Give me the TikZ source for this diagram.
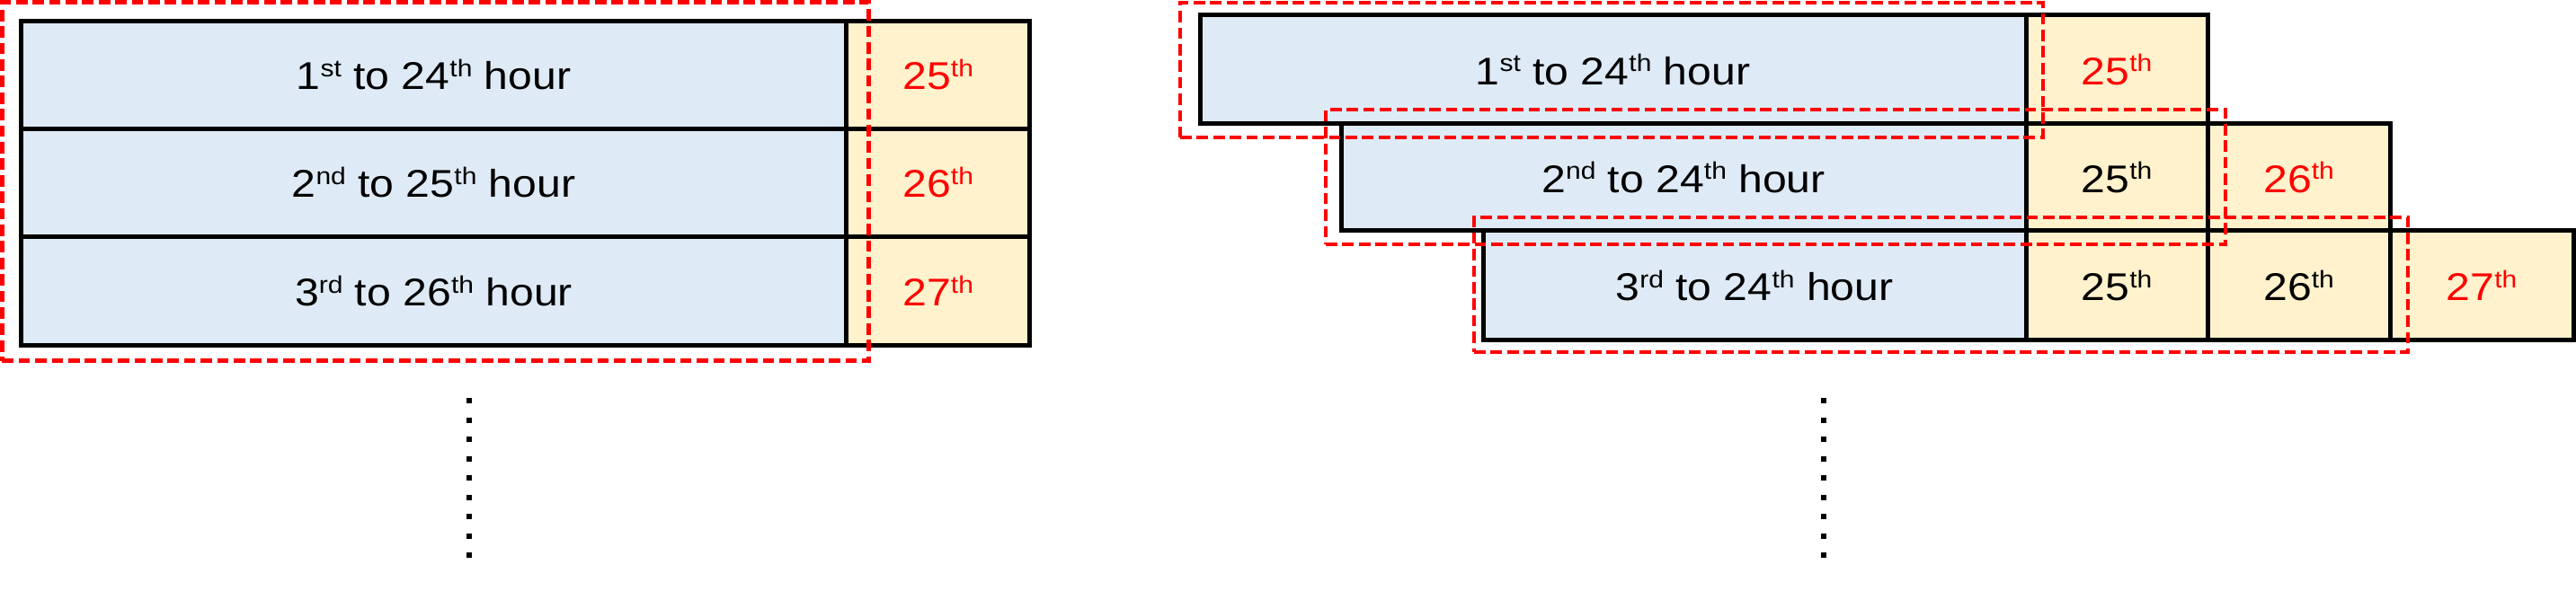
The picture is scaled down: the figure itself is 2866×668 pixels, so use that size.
\documentclass[tikz,border=0pt]{standalone}
\usepackage{fontspec}
\setmainfont{Liberation Sans}[FakeStretch=1.12]
\definecolor{cellblue}{HTML}{DEEBF7}
\definecolor{cellyellow}{HTML}{FFF2CC}
\definecolor{dashred}{HTML}{FF0000}
\newcommand\sps[1]{\raisebox{0.33em}{\fontsize{13.4pt}{14pt}\selectfont #1}}
\begin{document}
\begin{tikzpicture}[x=0.5pt,y=-0.5pt,
  cell/.style={draw=black, line width=2.5pt, inner sep=0pt, outer sep=0pt, font=\fontsize{21.5pt}{26pt}\selectfont},
  bcell/.style={cell, fill=cellblue},
  ycell/.style={cell, fill=cellyellow},
  redtext/.style={text=dashred},
  win/.style={draw=dashred, line width=2.35pt, dash pattern=on 6.35pt off 2.85pt, inner sep=0pt, outer sep=0pt},
  dotline/.style={line width=3pt, dash pattern=on 3pt off 7.75pt}]
\useasboundingbox (0,0) rectangle (2866,668);
% ---- left: sliding window ----
\node[bcell, minimum width=459.2pt, minimum height=60pt] (L1b) at (482.5,83.3) {1\sps{st} to 24\sps{th} hour};
\node[ycell, redtext, minimum width=102pt, minimum height=60pt] (L1y) at (1043.7,83.3) {25\sps{th}};
\node[bcell, minimum width=459.2pt, minimum height=60pt] (L2b) at (482.5,203.3) {2\sps{nd} to 25\sps{th} hour};
\node[ycell, redtext, minimum width=102pt, minimum height=60pt] (L2y) at (1043.7,203.3) {26\sps{th}};
\node[bcell, minimum width=459.2pt, minimum height=60.5pt] (L3b) at (482.5,323.8) {3\sps{rd} to 26\sps{th} hour};
\node[ycell, redtext, minimum width=102pt, minimum height=60.5pt] (L3y) at (1043.7,323.8) {27\sps{th}};
\node[win, minimum width=482.2pt, minimum height=199.7pt] (LW) at (484.5,202) {};
% ---- right ----
\node[bcell, minimum width=459.5pt, minimum height=60.5pt] (R1b) at (1794.5,77.5) {1\sps{st} to 24\sps{th} hour};
\node[ycell, redtext, minimum width=101pt, minimum height=60.5pt] (R1y) at (2355,77.5) {25\sps{th}};
\node[bcell, minimum width=381pt, minimum height=59.5pt] (R2b) at (1873,197.5) {2\sps{nd} to 24\sps{th} hour};
\node[ycell, minimum width=101pt, minimum height=59.5pt] (R2y1) at (2355,197.5) {25\sps{th}};
\node[ycell, redtext, minimum width=101.5pt, minimum height=59.5pt] (R2y2) at (2557.5,197.5) {26\sps{th}};
\node[bcell, minimum width=302pt, minimum height=61pt] (R3b) at (1952,318) {3\sps{rd} to 24\sps{th} hour};
\node[ycell, minimum width=101pt, minimum height=61pt] (R3y1) at (2355,318) {25\sps{th}};
\node[ycell, minimum width=101.5pt, minimum height=61pt] (R3y2) at (2557.5,318) {26\sps{th}};
\node[ycell, redtext, minimum width=102pt, minimum height=61pt] (R3y3) at (2761,318) {27\sps{th}};
\node[win, minimum width=480pt, minimum height=75pt] (RW1) at (1793,78) {};
\node[win, minimum width=500.5pt, minimum height=75pt] (RW2) at (1975.5,197) {};
\node[win, minimum width=519.5pt, minimum height=75pt] (RW3) at (2159.5,317) {};
% ---- vertical ellipses ----
\coordinate (ldA) at (522,443);
\coordinate (ldB) at (522,621);
\coordinate (rdA) at (2029,443);
\coordinate (rdB) at (2029,621);
\draw[dotline] (ldA) -- (ldB);
\draw[dotline] (rdA) -- (rdB);
\end{tikzpicture}
\end{document}
